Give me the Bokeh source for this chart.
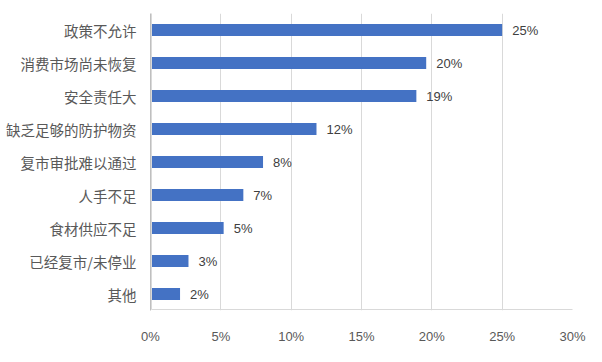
from bokeh.plotting import figure
from bokeh.models import ColumnDataSource, FactorRange, Range1d, FixedTicker, BoxAnnotation
from bokeh.core.properties import value
from bokeh.embed import file_html
from bokeh.resources import INLINE

categories = ["政策不允许", "消费市场尚未恢复", "安全责任大", "缺乏足够的防护物资",
              "复市审批难以通过", "人手不足", "食材供应不足", "已经复市/未停业", "其他"]
values = [25.0, 19.6, 18.9, 11.8, 8.0, 6.6, 5.2, 2.7, 2.1]
labels = ["25%", "20%", "19%", "12%", "8%", "7%", "5%", "3%", "2%"]
x_ticks = [0, 5, 10, 15, 20, 25, 30]
x_tick_labels = ["0%", "5%", "10%", "15%", "20%", "25%", "30%"]

W, H = 586, 346
src = ColumnDataSource(dict(cat=categories, val=values, lab=labels))

p = figure(width=W, height=H, output_backend="svg", toolbar_location=None,
           y_range=FactorRange(*reversed(categories)), x_range=Range1d(0, 30),
           min_border_left=150, min_border_right=14, min_border_top=13, min_border_bottom=34)
p.outline_line_color = None
p.background_fill_color = "white"
p.border_fill_color = "white"

frame = BoxAnnotation(left=1, right=W - 1, top=1, bottom=H - 1,
                      left_units="screen", right_units="screen",
                      top_units="screen", bottom_units="screen",
                      fill_alpha=0, line_color="#d9d9d9", line_alpha=1.0, line_width=1,
                      level="overlay")
p.add_layout(frame)

p.hbar(y="cat", right="val", left=0, height=0.36, source=src, color="#4472c4", line_color=None)
p.text(x="val", y="cat", text="lab", source=src, x_offset=10, text_baseline="middle",
       text_font=value("Liberation Sans"), text_font_size="13px", text_color="#404040")

p.xaxis.ticker = FixedTicker(ticks=x_ticks)
p.xaxis.major_label_overrides = {t: l for t, l in zip(x_ticks, x_tick_labels)}
p.xaxis.axis_line_color = None
p.xaxis.major_tick_line_color = None
p.xaxis.minor_tick_line_color = None
p.xaxis.major_label_text_font = "Liberation Sans"
p.xaxis.major_label_text_font_size = "13px"
p.xaxis.major_label_text_color = "#595959"
p.xaxis.major_label_standoff = 12

p.yaxis.axis_line_color = "#bfbfbf"
p.yaxis.major_tick_line_color = None
p.yaxis.minor_tick_line_color = None
p.yaxis.major_label_text_font = "Noto Sans CJK SC"
p.yaxis.major_label_text_font_size = "14.5px"
p.yaxis.major_label_text_color = "#595959"
p.yaxis.major_label_standoff = 8

p.xgrid.grid_line_color = "#d9d9d9"
p.ygrid.grid_line_color = None

open("out.html", "w").write(file_html(p, INLINE))
